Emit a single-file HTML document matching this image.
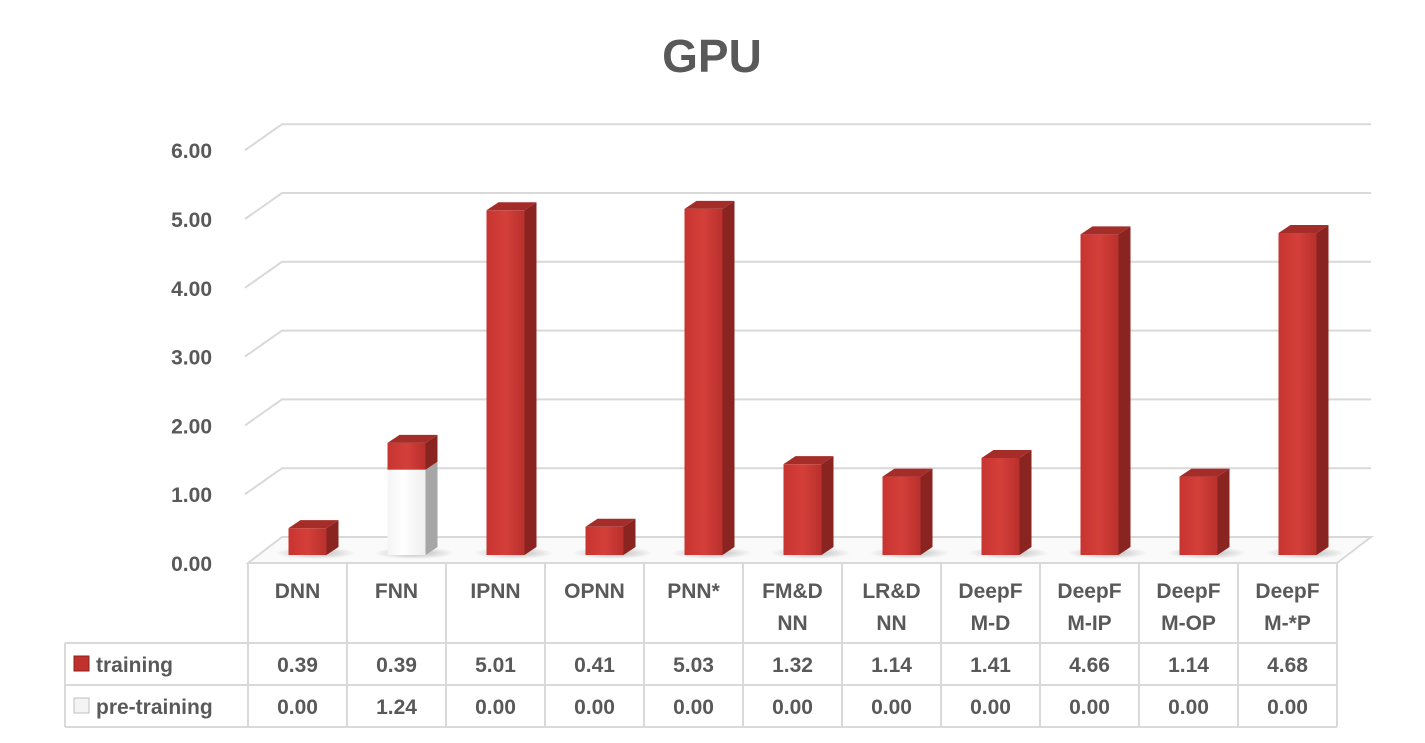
<!DOCTYPE html>
<html><head><meta charset="utf-8">
<style>
html,body{margin:0;padding:0;background:#fff;}
svg{display:block;font-family:"Liberation Sans",Arial,sans-serif;}
</style></head>
<body>
<svg id="chart" width="1425" height="743" viewBox="0 0 1425 743" xmlns="http://www.w3.org/2000/svg">
<defs>
<linearGradient id="gFront" x1="0" x2="1" y1="0" y2="0">
<stop offset="0" stop-color="#c83430"/><stop offset="0.5" stop-color="#d43f3a"/><stop offset="1" stop-color="#b9302c"/>
</linearGradient>
<linearGradient id="gWhite" x1="0" x2="1"><stop offset="0" stop-color="#f4f4f4"/><stop offset="0.4" stop-color="#ffffff"/><stop offset="1" stop-color="#eeeeee"/></linearGradient>
<radialGradient id="gShadow" cx="0.5" cy="0.5" r="0.5"><stop offset="0" stop-color="#888" stop-opacity="0.6"/><stop offset="1" stop-color="#888" stop-opacity="0"/></radialGradient>
</defs>
<text x="712" y="72" text-anchor="middle" font-size="46" font-weight="bold" fill="#595959">GPU</text>
<g id="grid"></g>
<g id="bars"></g>
<g id="table"></g>
</svg>
<script>
const categories = ["DNN","FNN","IPNN","OPNN","PNN*","FM&D\nNN","LR&D\nNN","DeepF\nM-D","DeepF\nM-IP","DeepF\nM-OP","DeepF\nM-*P"];
const training = [0.39,0.39,5.01,0.41,5.03,1.32,1.14,1.41,4.66,1.14,4.68];
const preTraining = [0.00,1.24,0.00,0.00,0.00,0.00,0.00,0.00,0.00,0.00,0.00];
const yTicks = [0,1,2,3,4,5,6];
const seriesNames = ["training","pre-training"];

const NS="http://www.w3.org/2000/svg";
const left=248, colW=99, scale=68.8, base=555, frontY=563, dx=34, dy=26;
const xCat=i=>left+colW*i+colW/2;
const yVal=v=>base-v*scale;
function mk(tag,attrs,parent){const e=document.createElementNS(NS,tag);for(const k in attrs)e.setAttribute(k,attrs[k]);parent.appendChild(e);return e;}
const grid=document.getElementById('grid'), bars=document.getElementById('bars'), table=document.getElementById('table');
const right=left+colW*categories.length;

// floor
const floor=mk('polygon',{points:`${left},${frontY} ${right},${frontY} ${right+dx},${frontY-dy} ${left+dx},${frontY-dy}`,fill:'#fafafa',stroke:'#d9d9d9','stroke-width':2},grid);


yTicks.forEach(t=>{
  const yf=frontY-t*scale, yb=yf-dy;
  if(t>0){
    const l=mk('polyline',{points:`${left-3},${yf} ${left+dx},${yb} ${right+dx},${yb}`,fill:'none',stroke:'#d9d9d9','stroke-width':2},grid);
    
    
  }
  const tx=mk('text',{x:212,y:yf+8,'text-anchor':'end','font-size':21,'font-weight':'bold',fill:'#595959'},grid);
  tx.textContent=t.toFixed(2);
  
  
});

function box(x,w,y0,y1,front,side,top,name){
  const g=mk('g',{},bars);
  
  
  const ox=12, oy=8;
  mk('rect',{x:x,y:y1,width:w,height:Math.max(0,y0-y1),fill:front},g);
  mk('polygon',{points:`${x+w},${y0} ${x+w+ox},${y0-oy} ${x+w+ox},${y1-oy} ${x+w},${y1}`,fill:side},g);
  if(top) mk('polygon',{points:`${x},${y1} ${x+ox},${y1-oy} ${x+w+ox},${y1-oy} ${x+w},${y1}`,fill:top},g);
  return g;
}
categories.forEach((c,i)=>{
  const x=xCat(i)-9, w=38;
  const sh=mk('ellipse',{cx:x+w/2+8,cy:base-2,rx:40,ry:6,fill:'url(#gShadow)'},bars);
  
  
  const p=preTraining[i], t=training[i];
  if(p>0) box(x,w,yVal(0),yVal(p),'url(#gWhite)','#a6a6a6',null,'bar-pre-training-'+i);
  box(x,w,yVal(p),yVal(p+t),'url(#gFront)','#8a2420','#a52d29','bar-training-'+i);
});

// table
const rowTop=563, r1=643, r2=685, r3=727, legL=65;
function line(x1,y1,x2,y2,name){const l=mk('line',{x1,y1,x2,y2,stroke:'#d9d9d9','stroke-width':2},table);}
for(let i=0;i<=categories.length;i++) line(left+colW*i,rowTop,left+colW*i,r3,'table-col-line');
line(legL,r1,right,r1,'table-row-line');
line(legL,r2,right,r2,'table-row-line');
line(legL,r3,right,r3,'table-row-line');
line(legL,r1,legL,r3,'table-col-line');
categories.forEach((c,i)=>{
  const parts=c.split('\n');
  const tx=mk('text',{x:xCat(i),'text-anchor':'middle','font-size':21,'font-weight':'bold',fill:'#595959'},table);
  
  
  parts.forEach((p,k)=>{const ts=mk('tspan',{x:xCat(i),y:(parts.length==1?598:598+k*32)},tx);ts.textContent=p;});
  [training[i],preTraining[i]].forEach((v,k)=>{
    const vt=mk('text',{x:xCat(i),y:(k==0?672:714),'text-anchor':'middle','font-size':21,'font-weight':'bold',fill:'#595959'},table);
    vt.textContent=v.toFixed(2);
    
    
  });
});
seriesNames.forEach((s,k)=>{
  const y=k==0?664:706;
  const sw=mk('rect',{x:74,y:y-8,width:15,height:15,fill:k==0?'#c0302c':'#f4f4f4',stroke:k==0?'#8a2420':'#bfbfbf','stroke-width':1},table);
  
  
  const tx=mk('text',{x:96,y:y+8,'font-size':21,'font-weight':'bold',fill:'#595959'},table);
  tx.textContent=s;
  
  
});
</script>
</body></html>
